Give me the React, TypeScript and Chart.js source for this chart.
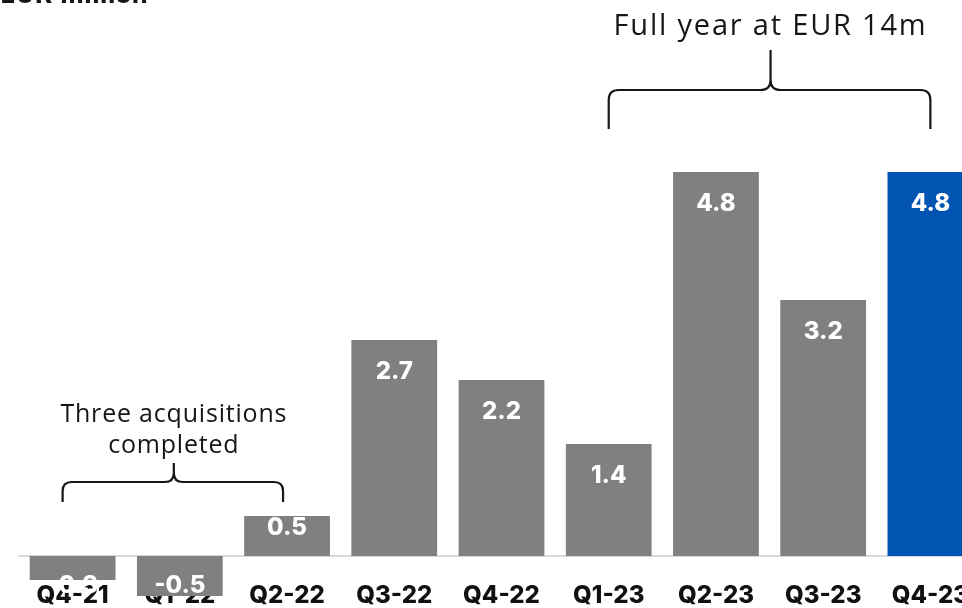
import React, { useEffect, useRef } from 'react';
import { Chart, registerables } from 'chart.js';

Chart.register(...registerables);

const categories = ['Q4-21', 'Q1-22', 'Q2-22', 'Q3-22', 'Q4-22', 'Q1-23', 'Q2-23', 'Q3-23', 'Q4-23'];
const values = [-0.3, -0.5, 0.5, 2.7, 2.2, 1.4, 4.8, 3.2, 4.8];
const highlightCategory = 'Q4-23';
const unitLabel = 'EUR million';
const fullYearNote = 'Full year at EUR 14m';
const fullYearSpan = ['Q1-23', 'Q4-23'];
const acquisitionsNote = ['Three acquisitions', 'completed'];
const acquisitionsSpan = ['Q4-21', 'Q2-22'];

const FONT = 'Inter, "DejaVu Sans", sans-serif';
const NOTE_FONT = '"Open Sans", "DejaVu Sans", sans-serif';
const GREY = '#808080';
const BLUE = '#0254B2';
const INK = '#161616';

function drawBrace(ctx: CanvasRenderingContext2D, x1: number, x2: number, tipX: number, yEnd: number, yH: number, yTip: number, r: number) {
  ctx.beginPath();
  ctx.moveTo(x1, yEnd);
  ctx.lineTo(x1, yH + r);
  ctx.quadraticCurveTo(x1, yH, x1 + r, yH);
  ctx.lineTo(tipX - r, yH);
  ctx.quadraticCurveTo(tipX, yH, tipX, yH - r);
  ctx.lineTo(tipX, yTip);
  ctx.moveTo(tipX, yH - r);
  ctx.quadraticCurveTo(tipX, yH, tipX + r, yH);
  ctx.lineTo(x2 - r, yH);
  ctx.quadraticCurveTo(x2, yH, x2, yH + r);
  ctx.lineTo(x2, yEnd);
  ctx.stroke();
}

const valueLabelPlugin = {
  id: 'valueLabels',
  afterDatasetsDraw(chart: any) {
    const ctx = chart.ctx as CanvasRenderingContext2D;
    const meta = chart.getDatasetMeta(0);
    ctx.save();
    ctx.font = `800 24px ${FONT}`;
    ctx.fillStyle = '#ffffff';
    ctx.textAlign = 'center';
    ctx.textBaseline = 'middle';
    meta.data.forEach((bar: any, i: number) => {
      const v = values[i];
      const h = Math.abs(bar.base - bar.y);
      let y;
      if (v >= 0) {
        y = bar.y + (h >= 64 ? 32 : h * 0.29);
      } else {
        y = bar.base + 30;
      }
      ctx.fillText(v.toFixed(1), bar.x, y);
    });
    ctx.restore();
  },
};

const annotationPlugin = {
  id: 'annotations',
  afterDraw(chart: any) {
    const ctx = chart.ctx as any;
    const xs = chart.scales.x;
    const ys = chart.scales.y;
    ctx.save();
    // title (cut off at top)
    ctx.fillStyle = INK;
    ctx.font = `bold 23px "DejaVu Sans", sans-serif`;
    ctx.textAlign = 'left';
    ctx.textBaseline = 'alphabetic';
    ctx.fillText(unitLabel, 0, 3);

    ctx.strokeStyle = INK;
    ctx.lineWidth = 2.2;
    ctx.lineCap = 'butt';

    // full year brace
    const fx1 = xs.getPixelForValue(categories.indexOf(fullYearSpan[0]));
    const fx2 = xs.getPixelForValue(categories.indexOf(fullYearSpan[1]));
    const fmid = (fx1 + fx2) / 2 + 1;
    const top = ys.getPixelForValue(6);
    drawBrace(ctx, fx1, fx2, fmid, top + 53, top + 14, top - 26, 10);
    ctx.font = `29px ${NOTE_FONT}`;
    ctx.letterSpacing = '1.8px';
    ctx.textAlign = 'center';
    ctx.fillText(fullYearNote, fmid, top - 41);

    // acquisitions brace
    const ax1 = xs.getPixelForValue(categories.indexOf(acquisitionsSpan[0])) - 10;
    const ax2 = xs.getPixelForValue(categories.indexOf(acquisitionsSpan[1])) - 4;
    const amid = (ax1 + ax2) / 2 + 1;
    const base = ys.getPixelForValue(0);
    drawBrace(ctx, ax1, ax2, amid, base - 54, base - 74, base - 93, 9);
    ctx.font = `25px ${NOTE_FONT}`;
    ctx.letterSpacing = '0.8px';
    ctx.fillText(acquisitionsNote[0], amid, base - 134);
    ctx.fillText(acquisitionsNote[1], amid, base - 103);
    ctx.letterSpacing = '0px';
    ctx.restore();
  },
};

export default function App() {
  const ref = useRef<HTMLCanvasElement>(null);
  useEffect(() => {
    if (!ref.current) return;
    const chart = new Chart(ref.current, {
      type: 'bar',
      data: {
        labels: categories,
        datasets: [
          {
            data: values,
            backgroundColor: categories.map((c) => (c === highlightCategory ? BLUE : GREY)),
            borderWidth: 0,
            categoryPercentage: 1,
            barPercentage: 0.8,
            clip: false as any,
          },
        ],
      },
      options: {
        animation: false,
        responsive: false,
        layout: { padding: { left: 19, right: 16, top: 76, bottom: 0 } },
        plugins: { legend: { display: false }, tooltip: { enabled: false }, title: { display: false } },
        scales: {
          x: {
            z: 1,
            grid: { display: false, drawTicks: false },
            border: { display: true, color: '#d9d9d9', width: 2 },
            ticks: { color: '#111111', font: { family: FONT, size: 24, weight: '800' as any }, padding: 25, maxRotation: 0, autoSkip: false },
            afterFit: (scale: any) => {
              scale.height = 52;
            },
          },
          y: { display: false, min: 0, max: 6 },
        },
      },
      plugins: [valueLabelPlugin, annotationPlugin],
    });
    return () => chart.destroy();
  }, []);
  return (
    <div style={{ position: 'fixed', left: 0, top: 0, width: 962, height: 608, overflow: 'hidden', background: '#fff' }}>
      <canvas ref={ref} width={1000} height={608} style={{ width: 1000, height: 608, display: 'block' }} />
    </div>
  );
}
